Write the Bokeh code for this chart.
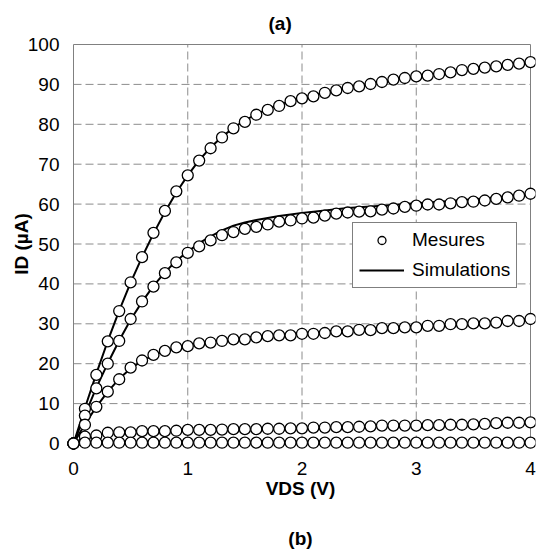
from bokeh.plotting import figure
from bokeh.models import Range1d, FixedTicker, Legend, LegendItem
from bokeh.embed import file_html
from bokeh.resources import INLINE

# Drain voltage steps (V)
vds = [0.0, 0.1, 0.2, 0.3, 0.4, 0.5, 0.6, 0.7, 0.8, 0.9,
       1.0, 1.1, 1.2, 1.3, 1.4, 1.5, 1.6, 1.7, 1.8, 1.9,
       2.0, 2.1, 2.2, 2.3, 2.4, 2.5, 2.6, 2.7, 2.8, 2.9,
       3.0, 3.1, 3.2, 3.3, 3.4, 3.5, 3.6, 3.7, 3.8, 3.9, 4.0]

# Measured drain current (uA), one list per gate bias
meas1 = [0, 8.7, 17.2, 25.6, 33.2, 40.4, 46.7, 52.8, 58.3, 63.2,
         67.2, 70.9, 74.0, 76.7, 79.0, 80.6, 82.4, 83.6, 84.6, 85.8,
         86.5, 87.0, 87.9, 88.5, 89.1, 89.5, 90.1, 90.6, 91.2, 91.6,
         92.0, 92.2, 92.6, 93.0, 93.6, 93.9, 94.2, 94.5, 94.9, 95.2, 95.6]
meas2 = [0, 7.0, 13.8, 20.0, 25.7, 31.2, 35.6, 39.3, 42.7, 45.4,
         47.8, 49.4, 50.9, 52.2, 53.0, 53.8, 54.3, 54.9, 55.6, 55.9,
         56.4, 56.6, 57.1, 57.6, 57.9, 58.1, 58.2, 58.6, 58.9, 59.3,
         59.6, 59.9, 59.9, 60.2, 60.5, 60.6, 60.9, 61.3, 61.7, 62.1, 62.6]
meas3 = [0, 4.7, 9.2, 13.0, 16.1, 19.0, 20.8, 22.2, 23.2, 24.1,
         24.4, 25.1, 25.3, 25.7, 26.1, 26.1, 26.6, 26.9, 27.1, 27.1,
         27.5, 27.5, 27.7, 28.1, 28.1, 28.5, 28.4, 28.9, 28.9, 29.1,
         29.1, 29.5, 29.5, 29.9, 29.9, 30.1, 30.1, 30.3, 30.7, 30.7, 31.2]
meas4 = [0, 1.7, 2.0, 2.7, 2.8, 2.8, 3.1, 3.1, 3.1, 3.2,
         3.4, 3.4, 3.4, 3.5, 3.6, 3.6, 3.6, 3.7, 3.7, 3.8,
         3.8, 4.0, 4.0, 4.1, 4.1, 4.2, 4.3, 4.5, 4.5, 4.5,
         4.5, 4.6, 4.6, 4.7, 4.7, 4.8, 4.9, 5.1, 5.2, 5.2, 5.3]
meas5 = [0, 0.2, 0.2, 0.2, 0.2, 0.2, 0.2, 0.2, 0.2, 0.2,
         0.2, 0.2, 0.2, 0.2, 0.2, 0.2, 0.2, 0.2, 0.2, 0.2,
         0.2, 0.2, 0.2, 0.2, 0.2, 0.2, 0.2, 0.2, 0.2, 0.2,
         0.2, 0.2, 0.2, 0.2, 0.2, 0.2, 0.2, 0.2, 0.2, 0.2, 0.2]

# Simulated drain current (uA)
sim1 = [0, 8.9, 17.5, 25.7, 33.3, 40.3, 46.7, 52.6, 58.0, 62.9,
        67.2, 71.0, 74.2, 76.9, 79.1, 81.0, 82.5, 83.8, 84.9, 85.8,
        86.6, 87.3, 88.0, 88.6, 89.2, 89.7, 90.2, 90.7, 91.2, 91.6,
        92.0, 92.4, 92.8, 93.2, 93.6, 93.9, 94.3, 94.6, 95.0, 95.3, 95.7]
sim2 = [0, 7.2, 14.0, 20.1, 25.8, 31.0, 35.5, 39.5, 42.9, 45.8,
        48.1, 50.2, 51.9, 53.4, 54.6, 55.4, 56.0, 56.5, 57.0, 57.4,
        57.8, 58.1, 58.4, 58.7, 59.0, 59.2, 59.4, 59.6, 59.8, 60.0,
        60.2, 60.4, 60.6, 60.8, 61.0, 61.2, 61.4, 61.7, 62.0, 62.3, 62.6]
sim3 = [0, 4.8, 9.2, 13.0, 16.2, 18.8, 20.7, 22.1, 23.2, 24.0,
        24.6, 25.1, 25.5, 25.9, 26.2, 26.5, 26.8, 27.0, 27.2, 27.5,
        27.7, 27.9, 28.1, 28.3, 28.5, 28.6, 28.8, 29.0, 29.2, 29.3,
        29.5, 29.6, 29.8, 29.9, 30.1, 30.2, 30.4, 30.6, 30.8, 31.0, 31.2]
sim4 = [0, 1.6, 2.2, 2.5, 2.7, 2.9, 3.0, 3.1, 3.2, 3.3,
        3.4, 3.4, 3.5, 3.5, 3.6, 3.6, 3.7, 3.7, 3.8, 3.8,
        3.9, 3.9, 4.0, 4.1, 4.1, 4.2, 4.3, 4.3, 4.4, 4.5,
        4.5, 4.6, 4.6, 4.7, 4.8, 4.8, 4.9, 5.0, 5.1, 5.2, 5.3]
sim5 = [0, 0.2, 0.2, 0.2, 0.2, 0.2, 0.2, 0.2, 0.2, 0.2,
        0.2, 0.2, 0.2, 0.2, 0.2, 0.2, 0.2, 0.2, 0.2, 0.2,
        0.2, 0.2, 0.2, 0.2, 0.2, 0.2, 0.2, 0.2, 0.2, 0.2,
        0.2, 0.2, 0.2, 0.2, 0.2, 0.2, 0.2, 0.2, 0.2, 0.2, 0.2]

x_ticks = [0, 1, 2, 3, 4]
y_ticks = [0, 10, 20, 30, 40, 50, 60, 70, 80, 90, 100]

FONT = "Liberation Sans"
GRID = "#8c8c8c"

# Canvas and plot-box geometry (pixels)
W, H = 536, 552
BOX_L, BOX_R, BOX_T, BOX_B = 73, 530, 44, 443
PAD_L, PAD_R, PAD_T, PAD_B = 8, 5, 8, 8   # room so edge markers are not cut

X0, X1 = x_ticks[0], x_ticks[-1]
Y0, Y1 = y_ticks[0], y_ticks[-1]
kx = (BOX_R - BOX_L) / (X1 - X0)
ky = (BOX_B - BOX_T) / (Y1 - Y0)

p = figure(width=W, height=H,
           x_range=Range1d(X0 - PAD_L / kx, X1 + PAD_R / kx),
           y_range=Range1d(Y0 - PAD_B / ky, Y1 + PAD_T / ky),
           output_backend="svg", toolbar_location=None,
           min_border_left=BOX_L - PAD_L, min_border_right=W - BOX_R - PAD_R,
           min_border_top=BOX_T - PAD_T, min_border_bottom=H - BOX_B - PAD_B)
p.outline_line_color = None
p.background_fill_color = "white"
p.border_fill_color = "white"
p.xgrid.visible = False
p.ygrid.visible = False

# top caption
p.title.text = "(a)"
p.title.align = "left"
p.title.offset = 268 - (BOX_L - PAD_L)
p.title.standoff = 6
p.title.text_font = FONT
p.title.text_font_size = "19px"
p.title.text_font_style = "bold"
p.title.text_color = "black"

for ax, ticks, standoff in ((p.xaxis[0], x_ticks, 10), (p.yaxis[0], y_ticks, 6)):
    ax.ticker = FixedTicker(ticks=ticks)
    ax.axis_line_color = None
    ax.major_tick_line_color = None
    ax.minor_tick_line_color = None
    ax.major_tick_out = 0
    ax.major_tick_in = 0
    ax.major_label_standoff = standoff
    ax.major_label_text_font = FONT
    ax.major_label_text_font_size = "19px"
    ax.major_label_text_color = "black"
    ax.axis_label_text_font = FONT
    ax.axis_label_text_font_size = "19px"
    ax.axis_label_text_font_style = "bold"
    ax.axis_label_text_color = "black"

# x title with the "(b)" panel caption set two lines below it
p.xaxis.axis_label = "VDS (V)\n\n(b)"
p.xaxis.axis_label_standoff = 0
p.xaxis.axis_label_text_line_height = 1.2
p.yaxis.axis_label = "ID (\u00b5A)"
p.yaxis.axis_label_standoff = -7

# dashed grid inside the plot box
inner_x = x_ticks[1:-1]
inner_y = y_ticks[1:-1]
p.segment(x0=inner_x, y0=[Y0] * len(inner_x), x1=inner_x, y1=[Y1] * len(inner_x),
          line_color=GRID, line_width=1, line_dash="8 4")
p.segment(x0=[X0] * len(inner_y), y0=inner_y, x1=[X1] * len(inner_y), y1=inner_y,
          line_color=GRID, line_width=1, line_dash="8 4")
# plot box border
p.quad(left=[X0], right=[X1], bottom=[Y0], top=[Y1],
       fill_color=None, line_color="#808080", line_width=1)

meas_sets = [meas1, meas2, meas3, meas4, meas5]
sim_sets = [sim1, sim2, sim3, sim4, sim5]

line_renderers = []
for sim in sim_sets:
    line_renderers.append(p.line(vds, sim, line_color="black", line_width=2))
marker_renderers = []
for meas in meas_sets:
    marker_renderers.append(p.scatter(vds, meas, marker="circle", size=11,
                                      fill_color="white", line_color="black",
                                      line_width=1.3))

legend = Legend(items=[LegendItem(label="Mesures", renderers=[marker_renderers[0]]),
                       LegendItem(label="Simulations", renderers=[line_renderers[0]])],
                location=(352 - (BOX_L - PAD_L), (BOX_B + PAD_B) - 288),
                border_line_color="black", border_line_width=1,
                background_fill_color="white", background_fill_alpha=1,
                label_text_font=FONT, label_text_font_size="19px",
                label_text_color="black",
                glyph_width=45, glyph_height=20, label_height=20,
                padding=6, spacing=8, label_standoff=8, margin=0)
p.add_layout(legend)

open("out.html", "w").write(file_html(p, INLINE))
